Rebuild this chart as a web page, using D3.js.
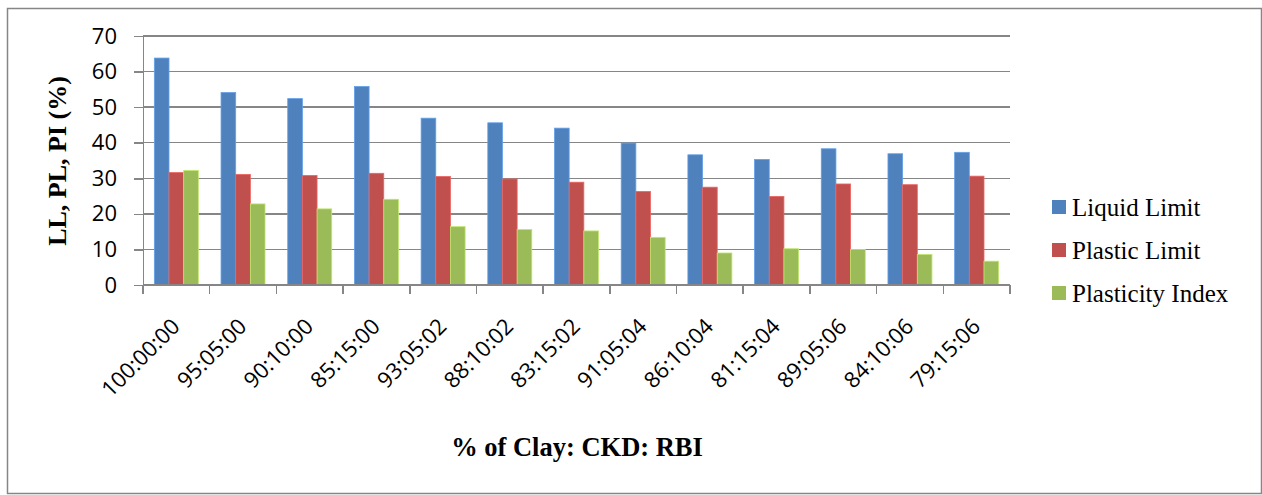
<!DOCTYPE html>
<meta charset="utf-8">
<style>
body { margin: 0; background: #fff; }
.axis path, .axis line { fill: none; stroke: #868686; stroke-width: 1.5; shape-rendering: crispEdges; }
.grid line { stroke: #868686; stroke-width: 1.5; shape-rendering: crispEdges; }
.tick text { font-family: "Open Sans", sans-serif; fill: #000; }
</style>
<body>
<script src="https://cdn.jsdelivr.net/npm/d3@7"></script>
<script>

// data
var mixes = ["100:00:00", "95:05:00", "90:10:00", "85:15:00", "93:05:02", "88:10:02", "83:15:02",
             "91:05:04", "86:10:04", "81:15:04", "89:05:06", "84:10:06", "79:15:06"];
var liquidLimit = [63.8, 54.1, 52.4, 55.8, 46.9, 45.6, 44.1, 39.9, 36.6, 35.3, 38.3, 36.9, 37.3];
var plasticLimit = [31.6, 31.1, 30.8, 31.4, 30.5, 29.8, 28.9, 26.3, 27.5, 24.9, 28.4, 28.2, 30.6];
var plasticityIndex = [32.2, 22.8, 21.4, 24.1, 16.4, 15.6, 15.2, 13.4, 9.0, 10.2, 10.0, 8.6, 6.7];
var seriesNames = ["Liquid Limit", "Plastic Limit", "Plasticity Index"];
var colors = ["#4F81BD", "#C0504D", "#9BBB59"];
var yTicks = [0, 10, 20, 30, 40, 50, 60, 70];

var W = 1262, H = 495;
var margin = {top: 36, left: 143},
    width = 1010 - 143,
    height = 285 - 36;

var svg = d3.select("body").append("svg")
    .attr("width", W)
    .attr("height", H);

// chart border
svg.append("rect")
    .attr("x", 7.5).attr("y", 8.5)
    .attr("width", W - 8).attr("height", 485)
    .attr("fill", "none")
    .attr("stroke", "#868686")
    .attr("stroke-width", 1.5);

var g = svg.append("g")
    .attr("transform", "translate(" + margin.left + "," + margin.top + ")");

var x = d3.scaleBand().domain(mixes).range([0, width]);
var x1 = d3.scaleBand().domain(seriesNames).range([0, 44]);
var y = d3.scaleLinear().domain([0, 70]).range([height, 0]);

// gridlines
g.append("g").attr("class", "grid")
  .selectAll("line").data(yTicks.slice(1)).enter().append("line")
    .attr("x1", 0).attr("x2", width)
    .attr("y1", function(d) { return y(d); })
    .attr("y2", function(d) { return y(d); });

// bars
var series = [liquidLimit, plasticLimit, plasticityIndex];
series.forEach(function(vals, s) {
  g.append("g").selectAll("rect")
    .data(vals).enter().append("rect")
      .attr("x", function(d, i) { return x(mixes[i]) + (x.bandwidth() - 44) / 2 + x1(seriesNames[s]); })
      .attr("y", function(d) { return y(d); })
      .attr("width", x1.bandwidth())
      .attr("height", function(d) { return height - y(d); })
      .attr("fill", colors[s])
      .attr("stroke", d3.color(colors[s]).brighter(0.6))
      .attr("stroke-width", 0.8);
});

// y axis
var yAxis = g.append("g").attr("class", "axis")
    .call(d3.axisLeft(y).tickValues(yTicks).tickSize(9).tickSizeOuter(0).tickPadding(17));
yAxis.selectAll("text").style("font-size", "22px");

// x axis, ticks on category boundaries
var xAxis = g.append("g").attr("class", "axis")
    .attr("transform", "translate(0," + height + ")");
xAxis.append("line").attr("x1", 0).attr("x2", width).attr("y1", 0).attr("y2", 0);
xAxis.selectAll(".tk").data(d3.range(mixes.length + 1)).enter().append("line")
    .attr("x1", function(i) { return i * x.step(); })
    .attr("x2", function(i) { return i * x.step(); })
    .attr("y1", 0).attr("y2", 9);
xAxis.selectAll(".lbl").data(mixes).enter().append("text")
    .attr("class", "tick")
    .attr("transform", function(d) { return "translate(" + (x(d) + x.bandwidth() / 2 - 6) + ",32) rotate(-45)"; })
    .attr("text-anchor", "end")
    .attr("dy", "0.7em")
    .style("font-family", "'Open Sans', sans-serif")
    .style("font-size", "22px")
    .text(function(d) { return d; });

// axis titles
svg.append("text")
    .attr("transform", "translate(66,161) rotate(-90)")
    .attr("text-anchor", "middle")
    .style("font-family", "'Liberation Serif', serif")
    .style("font-weight", "bold")
    .style("font-size", "26px")
    .text("LL, PL, PI (%)");

svg.append("text")
    .attr("x", 577).attr("y", 456)
    .attr("text-anchor", "middle")
    .style("font-family", "'Liberation Serif', serif")
    .style("font-weight", "bold")
    .style("font-size", "26.5px")
    .text("% of Clay: CKD: RBI");

// legend
var legend = svg.selectAll(".legend")
    .data(seriesNames).enter().append("g")
      .attr("class", "legend")
      .attr("transform", function(d, i) { return "translate(1052," + (207 + i * 43) + ")"; });
legend.append("rect")
    .attr("x", 0).attr("y", -7)
    .attr("width", 14).attr("height", 14)
    .attr("fill", function(d, i) { return colors[i]; });
legend.append("text")
    .attr("x", 20).attr("y", 0)
    .attr("dy", "0.35em")
    .style("font-family", "'Liberation Serif', serif")
    .style("font-size", "25px")
    .text(function(d) { return d; });

</script>
</body>
